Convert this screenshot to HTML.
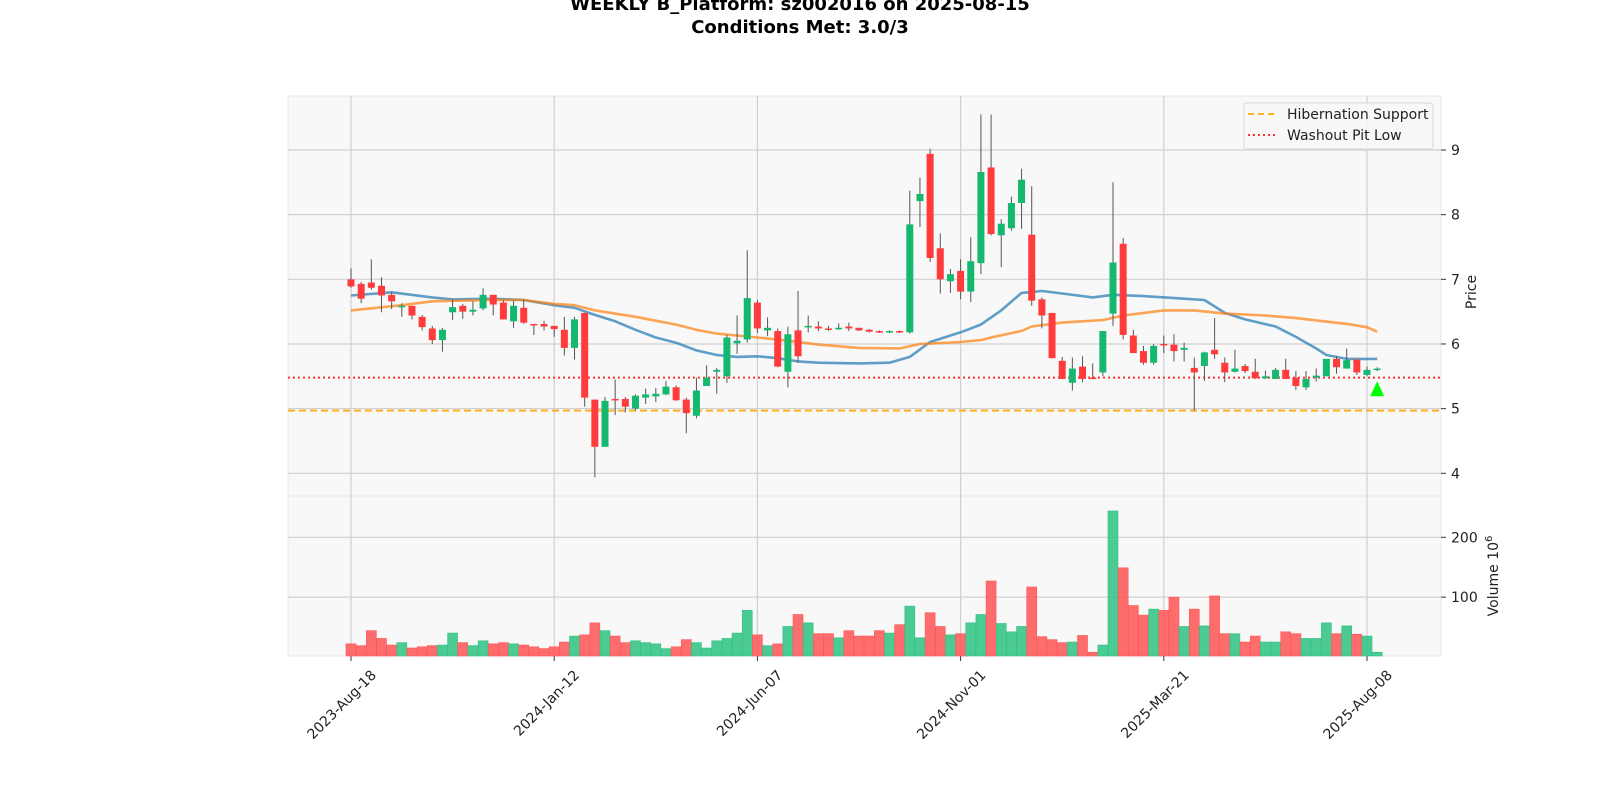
<!DOCTYPE html>
<html><head><meta charset="utf-8">
<style>
body{margin:0;background:#fff;width:1600px;height:800px;overflow:hidden;font-family:"Liberation Sans","DejaVu Sans",sans-serif}
svg text{font-family:"DejaVu Sans","Liberation Sans",sans-serif}
</style></head>
<body>
<svg id="chart" width="1600" height="800" xmlns="http://www.w3.org/2000/svg">
<text x="800" y="10" text-anchor="middle" font-size="18" font-weight="bold" fill="#000">WEEKLY B_Platform: sz002016 on 2025-08-15</text>
<text x="800" y="33" text-anchor="middle" font-size="18" font-weight="bold" fill="#000">Conditions Met: 3.0/3</text>
<g id="g"></g>
</svg>
<script>
const dates=["2023-Aug-18","2024-Jan-12","2024-Jun-07","2024-Nov-01","2025-Mar-21","2025-Aug-08"];
const tickIdx=[0,20,40,60,80,100];
const opens=[7.0,6.93,6.95,6.90,6.76,6.57,6.59,6.42,6.24,6.06,6.49,6.59,6.50,6.55,6.76,6.64,6.35,6.56,6.31,6.31,6.28,6.22,5.94,6.48,5.14,4.41,5.15,5.15,5.0,5.17,5.19,5.22,5.33,5.14,4.89,5.35,5.57,5.5,6.01,6.07,6.64,6.21,6.2,5.57,6.21,6.26,6.27,6.24,6.23,6.27,6.25,6.22,6.2,6.18,6.2,6.18,8.21,8.94,7.48,6.97,7.13,6.81,7.25,8.73,7.68,7.79,8.18,7.69,6.69,6.48,5.74,5.40,5.65,5.48,5.56,6.47,7.55,6.13,5.89,5.71,6.0,5.99,5.91,5.63,5.66,5.91,5.71,5.57,5.66,5.57,5.47,5.46,5.6,5.48,5.33,5.48,5.5,5.77,5.62,5.76,5.52,5.6];
const highs=[7.17,6.96,7.31,7.03,6.80,6.63,6.59,6.45,6.28,6.25,6.69,6.62,6.66,6.86,6.76,6.67,6.67,6.68,6.31,6.36,6.28,6.42,6.42,6.48,5.14,5.18,5.45,5.18,5.22,5.31,5.32,5.43,5.36,5.17,5.48,5.67,5.63,6.14,6.44,7.45,6.68,6.41,6.24,6.27,6.82,6.44,6.35,6.28,6.32,6.33,6.25,6.23,6.21,6.21,6.21,8.37,8.57,9.02,7.71,7.16,7.31,7.65,9.55,9.55,7.93,8.28,8.71,8.44,6.72,6.48,5.8,5.79,5.81,5.7,6.2,8.5,7.64,6.22,5.97,6.0,6.13,6.15,6.02,5.79,5.88,6.4,5.79,5.91,5.69,5.77,5.59,5.63,5.77,5.58,5.58,5.62,5.77,5.81,5.93,5.76,5.65,5.64];
const lows=[6.87,6.63,6.84,6.49,6.54,6.42,6.38,6.21,6.0,5.88,6.37,6.39,6.44,6.52,6.44,6.38,6.25,6.31,6.14,6.21,6.11,5.82,5.76,5.03,3.94,4.41,4.9,4.94,4.97,5.07,5.10,5.21,5.12,4.62,4.85,5.35,5.23,5.4,5.85,6.02,6.17,6.12,5.64,5.33,5.71,6.18,6.2,6.2,6.22,6.2,6.2,6.18,6.17,6.17,6.17,6.16,7.81,7.27,6.78,6.79,6.69,6.65,7.08,7.68,7.19,7.75,7.78,6.59,6.24,5.78,5.46,5.28,5.41,5.46,5.5,6.28,6.07,5.86,5.68,5.68,5.86,5.73,5.73,4.97,5.43,5.77,5.41,5.56,5.55,5.46,5.46,5.46,5.46,5.29,5.29,5.42,5.5,5.54,5.62,5.52,5.5,5.58];
const closes=[6.89,6.70,6.87,6.75,6.66,6.59,6.44,6.26,6.06,6.22,6.57,6.50,6.53,6.76,6.61,6.38,6.59,6.33,6.29,6.27,6.23,5.94,6.38,5.17,4.41,5.12,5.14,5.03,5.2,5.22,5.23,5.34,5.13,4.93,5.28,5.48,5.6,6.1,6.05,6.71,6.24,6.25,5.65,6.15,5.81,6.28,6.24,6.23,6.25,6.24,6.21,6.19,6.18,6.2,6.18,7.85,8.32,7.33,7.0,7.08,6.81,7.28,8.66,7.7,7.86,8.18,8.54,6.67,6.44,5.78,5.46,5.62,5.46,5.47,6.2,7.26,6.14,5.86,5.71,5.97,5.98,5.89,5.94,5.56,5.87,5.84,5.56,5.62,5.58,5.47,5.5,5.6,5.46,5.35,5.46,5.51,5.77,5.64,5.75,5.56,5.6,5.62];
const volumes=[22,19,44,31,20,24,15,17,19,20,40,24,19,27,22,24,22,20,17,14,17,25,35,37,57,44,35,24,27,24,22,14,17,29,24,15,27,31,40,78,37,19,22,51,71,57,39,39,32,44,35,35,44,40,54,85,32,74,51,37,39,57,71,127,56,42,51,117,34,29,24,25,36,8,20,244,149,86,70,80,78,100,51,80,52,102,39,39,25,35,25,25,42,39,31,31,57,39,52,38,35,8];
const maFastIdx=[0,4,8,10,14,17,20,22,24,26,28,30,32,34,36,38,40,42,44,46,50,53,55,57,60,62,64,66,68,70,73,75,78,82,84,86,88,91,93,95,96,98,101];
const maFastVal=[6.75,6.8,6.72,6.69,6.7,6.68,6.6,6.56,6.45,6.35,6.22,6.1,6.02,5.9,5.83,5.8,5.81,5.78,5.73,5.71,5.7,5.71,5.8,6.03,6.18,6.3,6.52,6.79,6.82,6.78,6.72,6.76,6.74,6.7,6.68,6.48,6.38,6.27,6.11,5.93,5.83,5.77,5.77];
const maSlowIdx=[0,5,8,14,17,20,22,24,28,32,34,36,40,43,46,50,54,56,60,62,63,66,67,70,74,76,80,83,86,90,93,98,100,101];
const maSlowVal=[6.52,6.6,6.66,6.68,6.68,6.62,6.6,6.52,6.42,6.3,6.22,6.16,6.1,6.05,5.99,5.94,5.93,6.0,6.03,6.06,6.1,6.2,6.27,6.33,6.37,6.44,6.52,6.52,6.47,6.44,6.4,6.31,6.26,6.19];
const supportLevel=4.97, washoutLevel=5.48;
const signalIdx=[101], signalPrice=[5.30];
const priceTicks=[4,5,6,7,8,9];
const volTicks=[100,200];

const NS="http://www.w3.org/2000/svg";
const g=document.getElementById('g');
function el(t,a,p){const e=document.createElementNS(NS,t);for(const k in a)e.setAttribute(k,a[k]);(p||g).appendChild(e);return e;}
const L=288,R=1441,PT=96,PB=496,VT=496,VB=656;
const xs=i=>351+i*10.16;
const yp=p=>473.3-(p-4)*64.66;
const yv=v=>657-v*0.5985;

let pp=el('rect',{x:L,y:PT,width:R-L,height:PB-PT,fill:'#f8f8f8',stroke:'#e8e8e8'});


let vp=el('rect',{x:L,y:VT,width:R-L,height:VB-VT,fill:'#f8f8f8',stroke:'#e8e8e8'});



priceTicks.forEach(p=>{const y=yp(p);
 let l=el('line',{x1:L,x2:R,y1:y,y2:y,stroke:'#d0d0d0','stroke-width':1.2});
 
 
 el('line',{x1:R,x2:R+5,y1:y,y2:y,stroke:'#333'});
 let t=el('text',{x:R+10,y:y+5,'font-size':14,fill:'#222'});t.textContent=p;
 
 
});
volTicks.forEach(v=>{const y=yv(v);
 let l=el('line',{x1:L,x2:R,y1:y,y2:y,stroke:'#d0d0d0','stroke-width':1.2});
 
 
 el('line',{x1:R,x2:R+5,y1:y,y2:y,stroke:'#333'});
 let t=el('text',{x:R+10,y:y+5,'font-size':14,fill:'#222'});t.textContent=v;
 
 
});
tickIdx.forEach((i,k)=>{const x=xs(i);
 let l=el('line',{x1:x,x2:x,y1:PT,y2:VB,stroke:'#d0d0d0','stroke-width':1.2});
 
 
 el('line',{x1:x,x2:x,y1:VB,y2:VB+5,stroke:'#333'});
 let t=el('text',{x:0,y:0,'font-size':14,fill:'#222','text-anchor':'end',transform:`translate(${x+26},${VB+20}) rotate(-45)`});
 t.textContent=dates[k];
 
 
});
let at=el('text',{x:0,y:0,'font-size':14,fill:'#222','text-anchor':'middle',transform:`translate(1476,292) rotate(-90)`});at.textContent='Price';


let vt=el('text',{x:0,y:0,'font-size':14,fill:'#222','text-anchor':'middle',transform:`translate(1498,576) rotate(-90)`});
vt.innerHTML='Volume  10<tspan dy="-6" font-size="10">6</tspan>';



let hs=el('line',{x1:L,x2:R,y1:yp(supportLevel),y2:yp(supportLevel),stroke:'#ffb020','stroke-width':2,'stroke-dasharray':'7,4'});


let wl=el('line',{x1:L,x2:R,y1:yp(washoutLevel),y2:yp(washoutLevel),stroke:'#ff3030','stroke-width':2,'stroke-dasharray':'2,3'});



function maPath(idx,val,col,name){let d=idx.map((i,k)=>(k?'L':'M')+xs(i).toFixed(1)+','+yp(val[k]).toFixed(1)).join('');
 let p=el('path',{d,fill:'none',stroke:col,'stroke-width':2.6,'stroke-opacity':0.7,'stroke-linejoin':'round'});
 
 }
maPath(maFastIdx,maFastVal,'#1f77b4','moving-average-fast');
maPath(maSlowIdx,maSlowVal,'#ff7f0e','moving-average-slow');

const up='#14b86e',dn='#ff3b3b';
opens.forEach((o,i)=>{const c=closes[i],x=xs(i),isUp=c>=o,col=isUp?up:dn;
 let w=el('line',{x1:x,x2:x,y1:yp(highs[i]),y2:yp(lows[i]),stroke:'#555','stroke-width':1});
 
 
 const top=yp(Math.max(o,c)),bot=yp(Math.min(o,c));
 let b=el('rect',{x:x-3.5,y:top,width:7,height:Math.max(1.5,bot-top),fill:col});
 
 
 let v=el('rect',{x:x-5,y:yv(volumes[i]),width:10,height:VB-yv(volumes[i]),fill:isUp?'#2ec282':'#ff5555','fill-opacity':0.85,stroke:isUp?'#2ec282':'#ff5555','stroke-width':0.6});
 
 
});
signalIdx.forEach((i,k)=>{const x=xs(i),y=yp(signalPrice[k]);
 let t=el('polygon',{points:`${x},${y-8} ${x-7},${y+7} ${x+7},${y+7}`,fill:'#00ff00'});
 
 
});

const lg=el('g',{});


el('rect',{x:1244,y:103,width:189,height:46,rx:3,fill:'#f8f8f8','fill-opacity':0.85,stroke:'#d8d8d8'},lg);
el('line',{x1:1248,x2:1277,y1:114,y2:114,stroke:'#ffb020','stroke-width':2,'stroke-dasharray':'6,4'},lg);
el('line',{x1:1248,x2:1277,y1:135,y2:135,stroke:'#ff3030','stroke-width':2,'stroke-dasharray':'2,3'},lg);
let t1=el('text',{x:1287,y:119,'font-size':14,fill:'#222'},lg);t1.textContent='Hibernation Support';


let t2=el('text',{x:1287,y:140,'font-size':14,fill:'#222'},lg);t2.textContent='Washout Pit Low';


</script>
</body></html>
